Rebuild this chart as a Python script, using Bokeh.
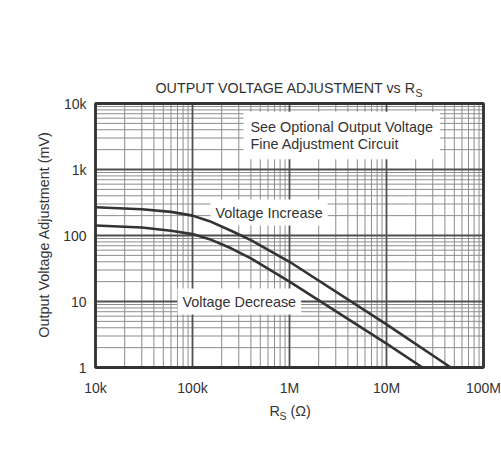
import math
from bokeh.plotting import figure
from bokeh.models import Label, Range1d
from bokeh.core.properties import value
from bokeh.embed import file_html
from bokeh.resources import INLINE

# ---- data ----
rs_increase = [1e4, 3e4, 6e4, 1e5, 1.5e5, 2.5e5, 4e5, 1e6, 1e7, 4.6e7]
mv_increase = [268, 250, 228, 200, 165, 118, 85, 40, 4.5, 1]
rs_decrease = [1e4, 3e4, 6e4, 1e5, 1.5e5, 2.5e5, 4e5, 1e6, 1e7, 2.35e7]
mv_decrease = [142, 132, 118, 105, 88, 64, 45, 20, 2.3, 1]

x_ticks = [1e4, 1e5, 1e6, 1e7, 1e8]
x_tick_labels = ["10k", "100k", "1M", "10M", "100M"]
y_ticks = [1, 10, 100, 1000, 10000]
y_tick_labels = ["1", "10", "100", "1k", "10k"]

FONT = "Liberation Sans"
INK = "#333333"
W, H = 500, 460
FL, FT, DX, DY = 95, 103, 97.0, 66.0   # plot-box left/top (px), px per decade x / y

def X(px):
    return 10 ** (math.log10(x_ticks[0]) + (px - FL) / DX)

def Y(py):
    return 10 ** (math.log10(y_ticks[-1]) - (py - FT) / DY)

# the frame covers the whole canvas so that no text gets clipped
p = figure(width=W, height=H, x_axis_type="log", y_axis_type="log",
           x_range=Range1d(X(0), X(W)), y_range=Range1d(Y(H), Y(0)),
           output_backend="svg", toolbar_location=None,
           min_border=0)
p.background_fill_color = "white"
p.border_fill_color = "white"
p.outline_line_color = None
p.xaxis.visible = False
p.yaxis.visible = False
p.xgrid.visible = False
p.ygrid.visible = False

def minor_of(ticks):
    out = []
    for t in ticks[:-1]:
        out += [t * m for m in range(2, 10)]
    return out

x_minor = minor_of(x_ticks)
y_minor = minor_of(y_ticks)
ylo, yhi = y_ticks[0], y_ticks[-1]
xlo, xhi = x_ticks[0], x_ticks[-1]

MINOR = dict(line_color="#8c8c8c", line_width=1)
MAJOR = dict(line_color="#505050", line_width=1.8)
p.segment(x0=x_minor, y0=[ylo] * len(x_minor), x1=x_minor, y1=[yhi] * len(x_minor), **MINOR)
p.segment(x0=[xlo] * len(y_minor), y0=y_minor, x1=[xhi] * len(y_minor), y1=y_minor, **MINOR)
p.segment(x0=x_ticks, y0=[ylo] * len(x_ticks), x1=x_ticks, y1=[yhi] * len(x_ticks), **MAJOR)
p.segment(x0=[xlo] * len(y_ticks), y0=y_ticks, x1=[xhi] * len(y_ticks), y1=y_ticks, **MAJOR)

# curves (drawn above the white label boxes)
p.line(rs_increase, mv_increase, line_color=INK, line_width=2.6, level="overlay")
p.line(rs_decrease, mv_decrease, line_color=INK, line_width=2.6, level="overlay")

# plot box
p.quad(left=[xlo], right=[xhi], bottom=[ylo], top=[yhi],
       fill_color=None, line_color=INK, line_width=2.8, level="overlay")

# tick labels
p.text(x=x_ticks, y=[Y(387)] * len(x_ticks), text=x_tick_labels,
       text_font=value(FONT), text_font_size="14px", text_color=INK,
       text_align="center", text_baseline="middle")
p.text(x=[X(86)] * len(y_ticks), y=y_ticks, text=y_tick_labels,
       text_font=value(FONT), text_font_size="14px", text_color=INK,
       text_align="right", text_baseline="middle")

def lab(x, y, text, size="14.4px", align="left", baseline="middle", angle=0,
        bg=None, pad=0, lh=1.2):
    kw = dict(x=X(x), y=Y(y), text=text, text_font=FONT, text_font_size=size,
              text_color=INK, text_align=align, text_baseline=baseline, angle=angle,
              text_line_height=lh)
    if bg:
        kw.update(background_fill_color=bg, padding=pad)
    p.add_layout(Label(**kw))

# title
lab(155, 87, "OUTPUT VOLTAGE ADJUSTMENT vs R", size="14.3px")
lab(415, 92, "S", size="10.5px")

# x-axis label
lab(269, 410, "R", size="14.4px")
lab(279, 415, "S", size="10.5px")
lab(290, 410, "(Ω)", size="14.4px")

# y-axis label
lab(43, 234, "Output Voltage Adjustment (mV)", size="14.4px", align="center",
    angle=math.pi / 2)

# annotations inside the plot
lab(243, 135, "See Optional Output Voltage\nFine Adjustment Circuit",
    bg="white", pad=7, lh=1.1)
lab(210, 212, "Voltage Increase", bg="white", pad=5)
lab(177, 301, "Voltage Decrease", bg="white", pad=5)

open("out.html", "w").write(file_html(p, INLINE))
